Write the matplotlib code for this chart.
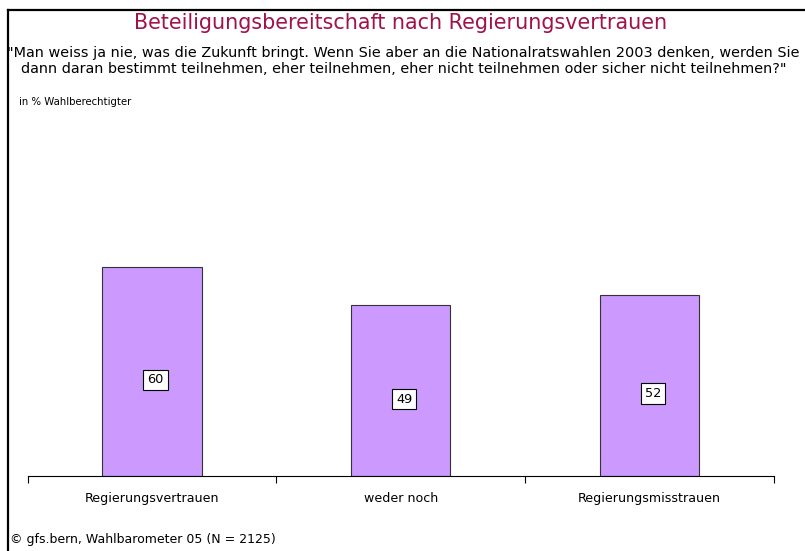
import matplotlib.pyplot as plt
from matplotlib.lines import Line2D

categories = ["Regierungsvertrauen", "weder noch", "Regierungsmisstrauen"]
values = [60, 49, 52]

title = "Beteiligungsbereitschaft nach Regierungsvertrauen"
question = ('"Man weiss ja nie, was die Zukunft bringt. Wenn Sie aber an die Nationalratswahlen 2003 denken, werden Sie\n'
            'dann daran bestimmt teilnehmen, eher teilnehmen, eher nicht teilnehmen oder sicher nicht teilnehmen?"')
unit = "in % Wahlberechtigter"
source = "\u00a9 gfs.bern, Wahlbarometer 05 (N = 2125)"

plt.rcParams["font.family"] = ["DejaVu Sans"]

fig = plt.figure(figsize=(8.05, 5.51), dpi=100)
ax = fig.add_axes([0.0344, 0.136, 0.9266, 0.632])

x = list(range(len(categories)))
ax.bar(x, values, width=0.4, color="#CC99FF", edgecolor="#333333", linewidth=0.8)
for xi, v in zip(x, values):
    ax.annotate(str(v), (xi, v / 2), xytext=(2.5, -6), textcoords="offset points",
                ha="center", va="center", fontsize=9.3,
                bbox=dict(boxstyle="square,pad=0.3", fc="white", ec="black", lw=0.8))

ax.set_xlim(-0.5, len(categories) - 0.5)
ax.set_ylim(0, 100)
ax.set_xticks(x)
ax.set_xticklabels(categories, fontsize=9.05)
ax.set_xticks([-0.5, 0.5, 1.5, 2.5], minor=True)
ax.tick_params(axis="x", which="major", length=0, pad=11.5)
ax.tick_params(axis="x", which="minor", length=5, width=0.8, color="black", direction="out")
ax.set_yticks([])
for s in ["top", "right", "left"]:
    ax.spines[s].set_visible(False)
ax.spines["bottom"].set_linewidth(0.8)

fig.text(0.497, 0.958, title, ha="center", va="center", fontsize=14.9, color="#A0124A")
fig.text(0.501, 0.889, question, ha="center", va="center", fontsize=10.35, linespacing=1.24)
fig.text(0.024, 0.815, unit, ha="left", va="center", fontsize=7.3)
fig.text(0.012, 0.021, source, ha="left", va="center", fontsize=9.0)

# frame around the slide (top and left edges only visible)
fig.add_artist(Line2D([8 / 805, 1], [1 - 10 / 551, 1 - 10 / 551], color="black", lw=1.6))
fig.add_artist(Line2D([8 / 805, 8 / 805], [0, 1 - 10 / 551], color="black", lw=1.6))

fig.savefig("out.png", dpi=100)
